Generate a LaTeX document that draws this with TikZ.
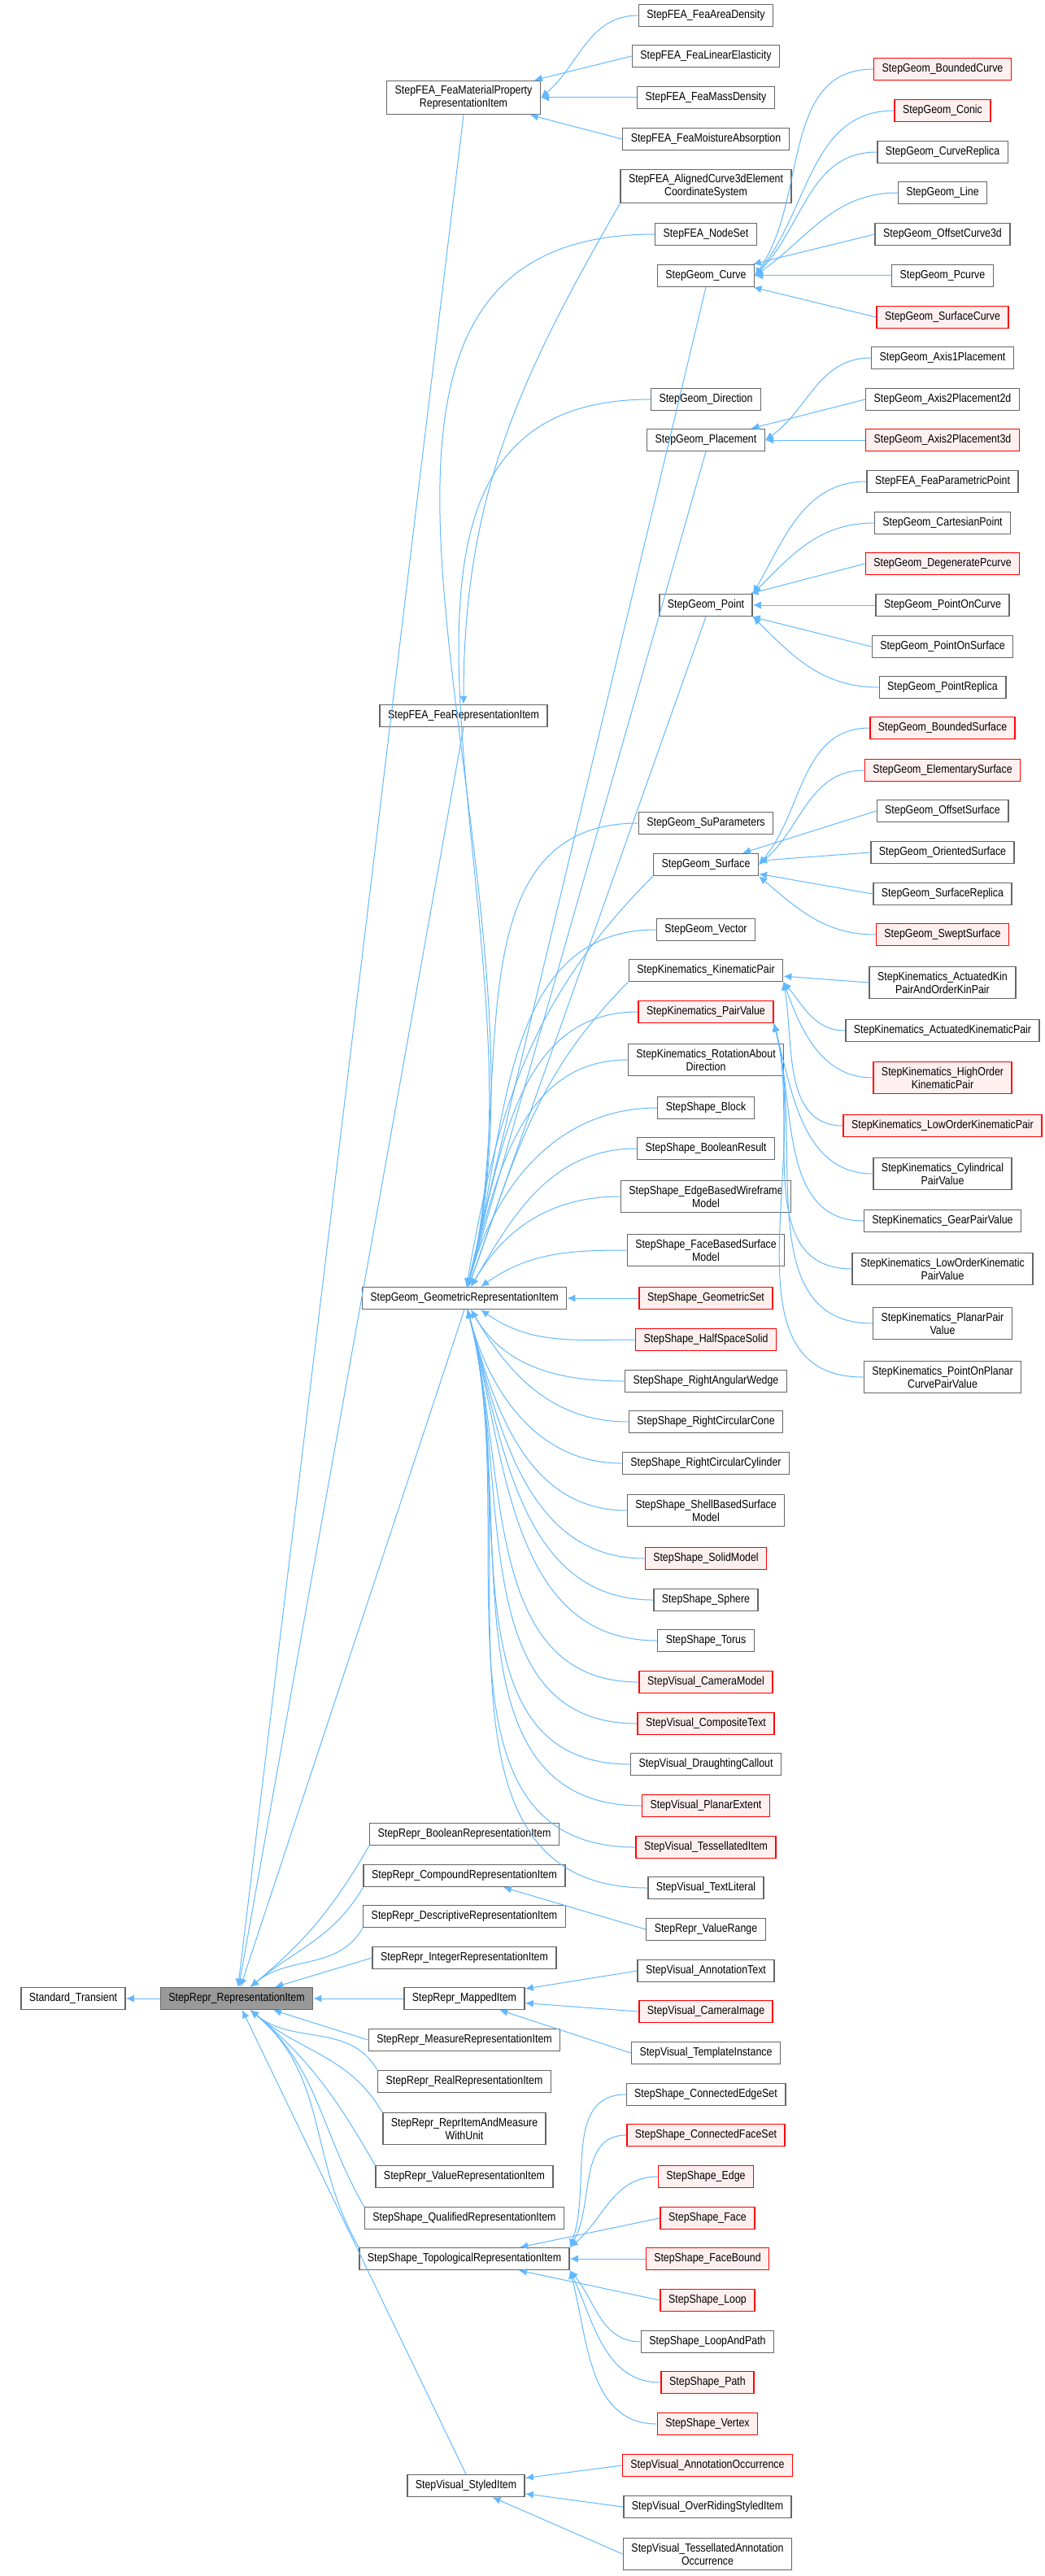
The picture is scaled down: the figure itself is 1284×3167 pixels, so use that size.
\documentclass[tikz,border=0pt]{standalone}
\usepackage{fontspec}
\setmainfont{Liberation Sans}[FakeStretch=0.86]
\usetikzlibrary{arrows.meta}
\definecolor{edgec}{HTML}{63B8FF}
\definecolor{bord}{HTML}{666666}
\definecolor{redf}{HTML}{FFF0F0}
\tikzset{
 b/.style={draw=bord,line width=0.7pt,fill=white,font=\fontsize{7.2}{8}\selectfont,inner xsep=5pt,inner ysep=3pt,minimum height=13.5pt,align=center},
 rb/.style={b,draw=red,fill=redf},
 gb/.style={b,fill=black!40},
 arr/.style={draw=edgec,line width=0.5pt,-{Latex[length=5pt,width=4.5pt]}},
 upB/.style={out=180,in=75},
 upA/.style={out=180,in=35},
 dnA/.style={out=180,in=-35},
 dnB/.style={out=180,in=-75}
}
\newcommand\ed[3][]{\draw[arr] (#2.west) to[#1] (#3);}
\newcommand\lfan[3][0]{\draw[arr] (#2.west) to[out=180,in=#1] (#3.east);}
\begin{document}
\begin{tikzpicture}[x=0.5pt,y=-0.5pt]
\useasboundingbox (0,0) rectangle (1284,3167);
% left
\node[b] (st) at (90,2457) {Standard\_Transient};
\node[gb] (ri) at (291,2457) {StepRepr\_RepresentationItem};
% column 2
\node[b] (fmp) at (570,120) {StepFEA\_FeaMaterialProperty\\RepresentationItem};
\node[b] (fri) at (570,880) {StepFEA\_FeaRepresentationItem};
\node[b] (gri) at (571,1596) {StepGeom\_GeometricRepresentationItem};
\node[b] (bool) at (571,2255) {StepRepr\_BooleanRepresentationItem};
\node[b] (comp) at (571,2306) {StepRepr\_CompoundRepresentationItem};
\node[b] (desc) at (571,2356) {StepRepr\_DescriptiveRepresentationItem};
\node[b] (intg) at (571,2407) {StepRepr\_IntegerRepresentationItem};
\node[b] (map) at (571,2457) {StepRepr\_MappedItem};
\node[b] (meas) at (571,2508) {StepRepr\_MeasureRepresentationItem};
\node[b] (real) at (571,2559) {StepRepr\_RealRepresentationItem};
\node[b] (rimu) at (571,2617) {StepRepr\_ReprItemAndMeasure\\WithUnit};
\node[b] (valr) at (571,2676) {StepRepr\_ValueRepresentationItem};
\node[b] (qual) at (571,2727) {StepShape\_QualifiedRepresentationItem};
\node[b] (topo) at (571,2777) {StepShape\_TopologicalRepresentationItem};
\node[b] (styl) at (573,3056) {StepVisual\_StyledItem};
% column 3
\node[b] (fad) at (868,19) {StepFEA\_FeaAreaDensity};
\node[b] (fle) at (868,69) {StepFEA\_FeaLinearElasticity};
\node[b] (fmd) at (868,120) {StepFEA\_FeaMassDensity};
\node[b] (fma) at (868,171) {StepFEA\_FeaMoistureAbsorption};
\node[b] (acs) at (868,229) {StepFEA\_AlignedCurve3dElement\\CoordinateSystem};
\node[b] (nset) at (868,288) {StepFEA\_NodeSet};
\node[b] (curve) at (868,339) {StepGeom\_Curve};
\node[b] (dir) at (868,491) {StepGeom\_Direction};
\node[b] (plc) at (868,541) {StepGeom\_Placement};
\node[b] (pt) at (868,744) {StepGeom\_Point};
\node[b] (supar) at (868,1012) {StepGeom\_SuParameters};
\node[b] (surf) at (868,1063) {StepGeom\_Surface};
\node[b] (vec) at (868,1143) {StepGeom\_Vector};
\node[b] (kp) at (868,1193) {StepKinematics\_KinematicPair};
\node[rb] (pv) at (868,1244) {StepKinematics\_PairValue};
\node[b] (rad) at (868,1303) {StepKinematics\_RotationAbout\\Direction};
\node[b] (blk) at (868,1362) {StepShape\_Block};
\node[b] (bres) at (868,1412) {StepShape\_BooleanResult};
\node[b] (ebw) at (868,1471) {StepShape\_EdgeBasedWireframe\\Model};
\node[b] (fbs) at (868,1537) {StepShape\_FaceBasedSurface\\Model};
\node[rb] (gset) at (868,1596) {StepShape\_GeometricSet};
\node[rb] (hss) at (868,1647) {StepShape\_HalfSpaceSolid};
\node[b] (raw) at (868,1698) {StepShape\_RightAngularWedge};
\node[b] (rcc) at (868,1748) {StepShape\_RightCircularCone};
\node[b] (rcy) at (868,1799) {StepShape\_RightCircularCylinder};
\node[b] (sbs) at (868,1857) {StepShape\_ShellBasedSurface\\Model};
\node[rb] (sm) at (868,1916) {StepShape\_SolidModel};
\node[b] (sph) at (868,1967) {StepShape\_Sphere};
\node[b] (tor) at (868,2017) {StepShape\_Torus};
\node[rb] (cam) at (868,2068) {StepVisual\_CameraModel};
\node[rb] (ctx) at (868,2119) {StepVisual\_CompositeText};
\node[b] (dco) at (868,2169) {StepVisual\_DraughtingCallout};
\node[rb] (pex) at (868,2220) {StepVisual\_PlanarExtent};
\node[rb] (tit) at (868,2271) {StepVisual\_TessellatedItem};
\node[b] (tlit) at (868,2321) {StepVisual\_TextLiteral};
\node[b] (vrng) at (868,2372) {StepRepr\_ValueRange};
\node[b] (atx) at (868,2423) {StepVisual\_AnnotationText};
\node[rb] (cim) at (868,2473) {StepVisual\_CameraImage};
\node[b] (tin) at (868,2524) {StepVisual\_TemplateInstance};
\node[b] (ces) at (868,2575) {StepShape\_ConnectedEdgeSet};
\node[rb] (cfs) at (868,2625) {StepShape\_ConnectedFaceSet};
\node[rb] (edg) at (868,2676) {StepShape\_Edge};
\node[rb] (fac) at (870,2727) {StepShape\_Face};
\node[rb] (fbd) at (870,2777) {StepShape\_FaceBound};
\node[rb] (loop) at (870,2828) {StepShape\_Loop};
\node[b] (lap) at (870,2879) {StepShape\_LoopAndPath};
\node[rb] (path) at (870,2929) {StepShape\_Path};
\node[rb] (vtx) at (870,2980) {StepShape\_Vertex};
\node[rb] (aoc) at (870,3031) {StepVisual\_AnnotationOccurrence};
\node[b] (ors) at (870,3082) {StepVisual\_OverRidingStyledItem};
\node[b] (tao) at (870,3140) {StepVisual\_TessellatedAnnotation\\Occurrence};
% column 4
\node[rb] (bcur) at (1159,85) {StepGeom\_BoundedCurve};
\node[rb] (con) at (1159,136) {StepGeom\_Conic};
\node[b] (crep) at (1159,187) {StepGeom\_CurveReplica};
\node[b] (line) at (1159,237) {StepGeom\_Line};
\node[b] (oc3) at (1159,288) {StepGeom\_OffsetCurve3d};
\node[b] (pcur) at (1159,339) {StepGeom\_Pcurve};
\node[rb] (scur) at (1159,390) {StepGeom\_SurfaceCurve};
\node[b] (a1p) at (1159,440) {StepGeom\_Axis1Placement};
\node[b] (a2p2) at (1159,491) {StepGeom\_Axis2Placement2d};
\node[rb] (a2p3) at (1159,541) {StepGeom\_Axis2Placement3d};
\node[b] (fpp) at (1159,592) {StepFEA\_FeaParametricPoint};
\node[b] (cpt) at (1159,643) {StepGeom\_CartesianPoint};
\node[rb] (dpc) at (1159,693) {StepGeom\_DegeneratePcurve};
\node[b] (poc) at (1159,744) {StepGeom\_PointOnCurve};
\node[b] (pos) at (1159,795) {StepGeom\_PointOnSurface};
\node[b] (prep) at (1159,845) {StepGeom\_PointReplica};
\node[rb] (bsur) at (1159,895) {StepGeom\_BoundedSurface};
\node[rb] (esur) at (1159,947) {StepGeom\_ElementarySurface};
\node[b] (osur) at (1159,997) {StepGeom\_OffsetSurface};
\node[b] (orsur) at (1159,1048) {StepGeom\_OrientedSurface};
\node[b] (srep) at (1159,1099) {StepGeom\_SurfaceReplica};
\node[rb] (ssur) at (1159,1149) {StepGeom\_SweptSurface};
\node[b] (akp) at (1159,1208) {StepKinematics\_ActuatedKin\\PairAndOrderKinPair};
\node[b] (akpp) at (1159,1267) {StepKinematics\_ActuatedKinematicPair};
\node[rb] (hokp) at (1159,1325) {StepKinematics\_HighOrder\\KinematicPair};
\node[rb] (lokp) at (1159,1384) {StepKinematics\_LowOrderKinematicPair};
\node[b] (cypv) at (1159,1443) {StepKinematics\_Cylindrical\\PairValue};
\node[b] (gpv) at (1159,1501) {StepKinematics\_GearPairValue};
\node[b] (lopv) at (1159,1560) {StepKinematics\_LowOrderKinematic\\PairValue};
\node[b] (plpv) at (1159,1627) {StepKinematics\_PlanarPair\\Value};
\node[b] (popv) at (1159,1693) {StepKinematics\_PointOnPlanar\\CurvePairValue};
% edges
\draw[arr] (ri) -- (st);
\draw[arr] (fmp.south) -- (ri);
\draw[arr] (fri.south) -- (ri);
\draw[arr] (gri.south) -- (ri);
\foreach \n in {bool,comp,desc}{\draw[arr] (\n.south west) to[out=-120,in=40] (ri);}
\ed{intg}{ri} \ed{map}{ri} \ed{meas}{ri}
\foreach \n in {real,rimu,valr,qual,topo}{\draw[arr] (\n.north west) to[out=120,in=-40] (ri);}
\draw[arr] (styl.north) -- (ri);
\lfan[40]{fad}{fmp} \ed{fle}{fmp} \ed{fmd}{fmp} \ed{fma}{fmp}
\draw[arr] (acs.south west) to[out=-120,in=90] (fri);
% curve
\lfan[55]{bcur}{curve} \lfan[50]{con}{curve} \lfan[45]{crep}{curve} \lfan[35]{line}{curve}
\ed{oc3}{curve} \ed{pcur}{curve} \ed{scur}{curve}
\lfan[35]{a1p}{plc} \ed{a2p2}{plc} \ed{a2p3}{plc}
\draw[arr] (fpp.west) to[out=180,in=60] (pt.north east);
\draw[arr] (cpt.west) to[out=180,in=45] (pt.north east);
\ed{dpc}{pt} \ed{poc}{pt} \ed{pos}{pt}
\draw[arr] (prep.west) to[out=180,in=-45] (pt.south east);
\lfan[50]{bsur}{surf} \lfan[40]{esur}{surf} \ed{osur}{surf} \ed{orsur}{surf} \ed{srep}{surf}
\draw[arr] (ssur.west) to[out=180,in=-40] (surf.south east);
\ed{akp}{kp}
\draw[arr] (akpp.west) to[out=180,in=-50] (kp.south east);
\draw[arr] (hokp.west) to[out=180,in=-70] (kp.south east);
\draw[arr] (lokp.west) to[out=180,in=-80] (kp.south east);
\foreach \n in {cypv,gpv,lopv,plpv,popv}{\draw[arr] (\n.west) to[out=180,in=-75] (pv.south east);}
% GRI
\draw[arr] (curve.south) -- (gri);
\draw[arr] (plc.south) -- (gri);
\draw[arr] (pt.south) -- (gri);
\draw[arr] (surf.south west) to[out=-135,in=80] (gri);
\draw[arr] (kp.south west) to[out=-135,in=70] (gri);
\foreach \n in {nset,dir,supar,vec,pv,rad,blk}{\ed[upB]{\n}{gri}}
\foreach \n in {bres,ebw}{\ed[out=180,in=60]{\n}{gri}}
\ed[upA]{fbs}{gri} \ed{gset}{gri} \ed[dnA]{hss}{gri}
\foreach \n in {raw,rcc}{\ed[out=180,in=-60]{\n}{gri}}
\foreach \n in {rcy,sbs,sm,sph,tor,cam,ctx,dco,pex,tit,tlit}{\ed[dnB]{\n}{gri}}
\ed{vrng}{comp}
\ed{atx}{map} \ed{cim}{map} \ed{tin}{map}
\draw[arr] (ces.west) to[out=180,in=70] (topo.north east);
\draw[arr] (cfs.west) to[out=180,in=60] (topo.north east);
\draw[arr] (edg.west) to[out=180,in=40] (topo.north east);
\ed{fac}{topo} \ed{fbd}{topo} \ed{loop}{topo}
\draw[arr] (lap.west) to[out=180,in=-50] (topo.south east);
\draw[arr] (path.west) to[out=180,in=-65] (topo.south east);
\draw[arr] (vtx.west) to[out=180,in=-75] (topo.south east);
\ed{aoc}{styl} \ed{ors}{styl} \ed{tao}{styl}
\end{tikzpicture}
\end{document}
